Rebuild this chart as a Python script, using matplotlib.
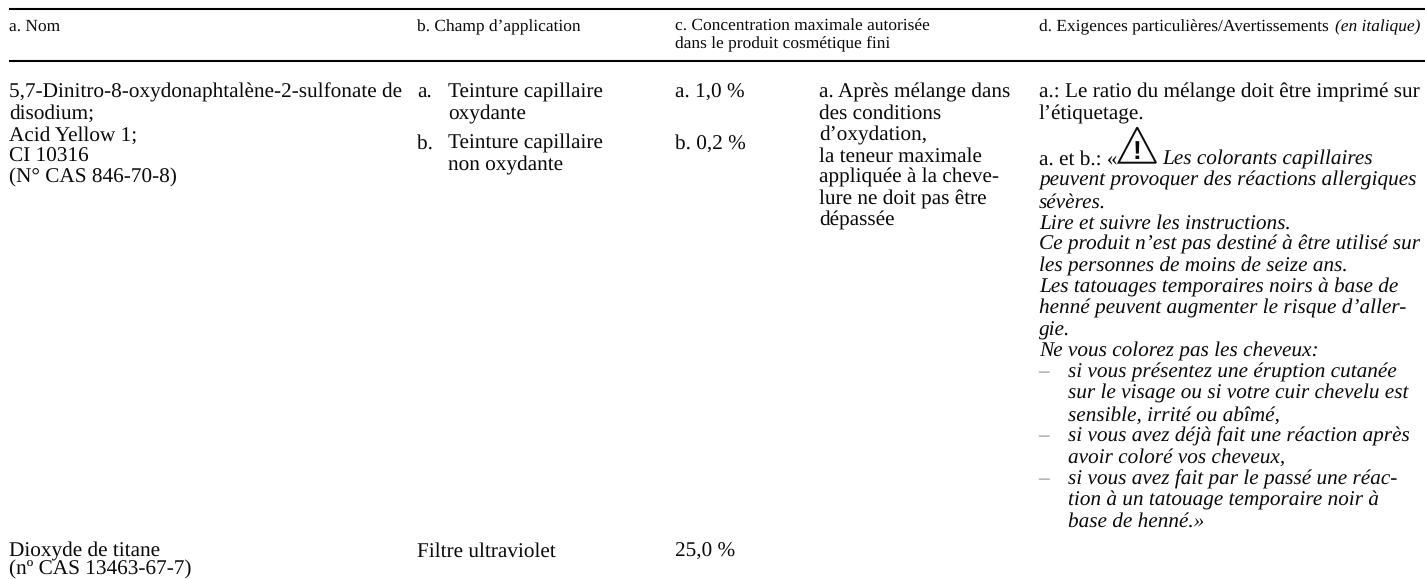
import matplotlib
matplotlib.use("Agg")
import matplotlib.pyplot as plt
from matplotlib.patches import Polygon

plt.rcParams['font.family'] = ['Liberation Serif', 'DejaVu Serif']
plt.rcParams['text.hinting'] = 'no_hinting'

header_nom = "a. Nom"
header_champ = "b. Champ d’application"
header_conc = ["c. Concentration maximale autorisée", "dans le produit cosmétique fini"]
header_exig = "d. Exigences particulières/Avertissements"
header_exig_it = "(en italique)"

nom_1 = ["5,7-Dinitro-8-oxydonaphtalène-2-sulfonate de", "disodium;", "Acid Yellow 1;", "CI 10316", "(N° CAS 846-70-8)"]
nom_2 = ["Dioxyde de titane", "(nº CAS 13463-67-7)"]
champ_a = ["Teinture capillaire", "oxydante"]
champ_b = ["Teinture capillaire", "non oxydante"]
champ_2 = "Filtre ultraviolet"
conc_a, conc_b, conc_2 = "a. 1,0 %", "b. 0,2 %", "25,0 %"
cond = ["a. Après mélange dans", "des conditions", "d’oxydation,", "la teneur maximale",
        "appliquée à la cheve-", "lure ne doit pas être", "dépassée"]
exig_top = ["a.: Le ratio du mélange doit être imprimé sur", "l’étiquetage."]
exig_lead = "a. et b.: «"
exig_first = "Les colorants capillaires"
exig_it = ["peuvent provoquer des réactions allergiques", "sévères.", "Lire et suivre les instructions.",
           "Ce produit n’est pas destiné à être utilisé sur", "les personnes de moins de seize ans.",
           "Les tatouages temporaires noirs à base de", "henné peuvent augmenter le risque d’aller-",
           "gie.", "Ne vous colorez pas les cheveux:"]
exig_bul = [(True, "si vous présentez une éruption cutanée"), (False, "sur le visage ou si votre cuir chevelu est"),
            (False, "sensible, irrité ou abîmé,"), (True, "si vous avez déjà fait une réaction après"),
            (False, "avoir coloré vos cheveux,"), (True, "si vous avez fait par le passé une réac-"),
            (False, "tion à un tatouage temporaire noir à"), (False, "base de henné.»")]

W, H = 1425, 579
fig = plt.figure(figsize=(W / 100, H / 100), dpi=100)
ax = fig.add_axes([0, 0, 1, 1])
ax.set_xlim(0, W)
ax.set_ylim(H, 0)
ax.axis('off')

BODY = 15.3
HEAD = 12.5
LH = 21.3


def put(x, y, s, size=BODY, style='normal', color='#0a0a0a'):
    return ax.text(x, y, s, fontsize=size, style=style, va='baseline', ha='left', color=color)


def block(x, y, lines, **kw):
    for i, s in enumerate(lines):
        put(x, y + i * LH, s, **kw)


for y in (9.3, 61):
    ax.plot([9, W], [y, y], color='black', lw=1.5, solid_capstyle='butt')

put(9, 31, header_nom, size=HEAD)
put(417, 31, header_champ, size=HEAD)
put(675, 31, header_conc[0], size=HEAD)
put(675, 48.5, header_conc[1], size=HEAD)
put(1039, 31, header_exig, size=HEAD)
put(1335, 31, header_exig_it, size=HEAD, style='italic')

Y0 = 97.7
block(9, Y0, nom_1)
put(417, Y0, "a.")
block(448, Y0, champ_a)
put(417, 149, "b.")
block(448, 149, champ_b)
put(675, Y0, conc_a)
put(675, 149, conc_b)
block(819, Y0, cond)
block(1039, Y0, exig_top)

Y1 = 164.7
put(1039, Y1, exig_lead)
ax.add_patch(Polygon([(1137.2, 127.5), (1118.5, 162.7), (1156, 162.7)], closed=True, fill=False,
                     ec='#0a0a0a', lw=1.4, joinstyle='miter'))
ax.text(1137.4, 159, "!", fontsize=19, family='Liberation Sans', weight='bold', ha='center', va='baseline', color='#0a0a0a')
put(1162.5, Y1, exig_first, style='italic')
for i, s in enumerate(exig_it):
    put(1039, Y1 + (i + 1) * LH, s, style='italic')
for i, (dash, s) in enumerate(exig_bul):
    y = Y1 + (i + 1 + len(exig_it)) * LH
    if dash:
        put(1038, y, "–", color='#8a8a8a')
    put(1068, y, s, style='italic')

put(9, 556.7, nom_2[0])
put(9, 575, nom_2[1])
put(417, 556.7, champ_2)
put(675, 556.7, conc_2)

fig.savefig("out.png", dpi=100)
